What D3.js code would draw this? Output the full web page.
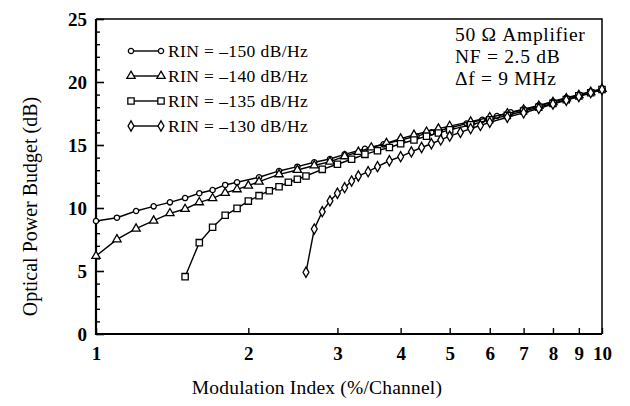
<!DOCTYPE html>
<html>
<head>
<meta charset="utf-8">
<script src="https://cdn.jsdelivr.net/npm/d3@7"></script>
<style>
  html, body { margin: 0; padding: 0; background: #fff; }
  svg { display: block; }
  text { font-family: "Liberation Serif", "DejaVu Serif", serif; fill: #000; }
</style>
</head>
<body>
<svg id="chart" width="630" height="406"></svg>
<script>
// ---- data ----
const seriesNames = ["RIN = \u2013150 dB/Hz", "RIN = \u2013140 dB/Hz", "RIN = \u2013135 dB/Hz", "RIN = \u2013130 dB/Hz"];
const markerTypes = ["circle", "triangle", "square", "diamond"];

const x150 = [1.0,1.1,1.2,1.3,1.4,1.5,1.6,1.7,1.8,1.9,2.1,2.3,2.5,2.7,2.9,3.1,3.4,3.7,4.0,4.3,4.6,5.0,5.4,5.8,6.2,6.6,7.0,7.5,8.0,8.5,9.0,9.5,10];
const y150 = [8.97,9.23,9.76,10.13,10.45,10.79,11.17,11.43,11.83,12.04,12.44,12.94,13.28,13.63,13.89,14.26,14.7,15.05,15.4,15.7,16.0,16.35,16.7,17.0,17.3,17.6,17.85,18.15,18.45,18.75,19.0,19.25,19.45];

const x140 = [1.0,1.1,1.2,1.3,1.4,1.5,1.6,1.7,1.8,1.9,2.0,2.1,2.3,2.5,2.7,2.9,3.1,3.3,3.5,3.75,4.0,4.25,4.5,4.75,5.0,5.5,6.0,6.5,7.0,7.5,8.0,8.5,9.0,9.5,10];
const y140 = [6.19,7.51,8.36,8.99,9.58,9.92,10.45,10.77,11.2,11.48,11.77,12.09,12.67,13.02,13.37,13.68,14.1,14.45,14.8,15.15,15.5,15.8,16.05,16.3,16.5,16.85,17.2,17.5,17.8,18.1,18.4,18.7,18.95,19.2,19.45];

const x135 = [1.5,1.6,1.7,1.8,1.9,2.0,2.1,2.2,2.3,2.4,2.5,2.6,2.8,3.0,3.2,3.4,3.6,3.8,4.0,4.25,4.5,4.75,5.0,5.5,6.0,6.5,7.0,7.5,8.0,8.5,9.0,9.5,10];
const y135 = [4.55,7.25,8.47,9.42,9.97,10.55,10.98,11.37,11.69,12.04,12.28,12.54,13.07,13.47,13.87,14.26,14.55,14.8,15.1,15.4,15.7,15.95,16.2,16.6,17.0,17.35,17.7,18.0,18.3,18.6,18.9,19.15,19.4];

const x130 = [2.6,2.7,2.8,2.9,3.0,3.1,3.2,3.3,3.45,3.6,3.8,4.0,4.2,4.4,4.6,4.8,5.0,5.25,5.5,5.75,6.0,6.5,7.0,7.5,8.0,8.5,9.0,9.5,10];
const y130 = [4.9,8.33,9.71,10.56,11.17,11.61,12.14,12.54,12.88,13.28,13.75,14.07,14.45,14.8,15.1,15.4,15.7,16.0,16.3,16.55,16.8,17.2,17.55,17.9,18.25,18.55,18.85,19.15,19.4];

const xTicks = [1,2,3,4,5,6,7,8,9,10];
const yTicks = [0,5,10,15,20,25];
const yMinorTicks = [1,2,3,4,6,7,8,9,11,12,13,14,16,17,18,19,21,22,23,24];
const annotation = ["50 \u03A9 Amplifier", "NF = 2.5 dB", "\u0394f = 9 MHz"];
const xTitle = "Modulation Index (%/Channel)";
const yTitle = "Optical Power Budget (dB)";

// ---- build ----
const series = [
  {name: seriesNames[0], type: markerTypes[0], xs: x150, ys: y150},
  {name: seriesNames[1], type: markerTypes[1], xs: x140, ys: y140},
  {name: seriesNames[2], type: markerTypes[2], xs: x135, ys: y135},
  {name: seriesNames[3], type: markerTypes[3], xs: x130, ys: y130}
];

const svg = d3.select("#chart");
const L = 96, R = 602, T = 19, B = 334;
const x = d3.scaleLog().domain([1, 10]).range([L, R]);
const y = d3.scaleLinear().domain([0, 25]).range([B, T]);

function markerPath(type) {
  if (type === "circle") return d3.symbol().type(d3.symbolCircle).size(22)();
  if (type === "triangle") return d3.symbol().type(d3.symbolTriangle).size(30)();
  if (type === "square") return d3.symbol().type(d3.symbolSquare).size(40)();
  return d3.symbol().type(d3.symbolDiamond).size(30)();
}

// axes
const gy = svg.append("g").attr("transform", `translate(${L},0)`)
  .call(d3.axisLeft(y).tickValues(yTicks).tickSize(-8).tickPadding(9).tickFormat(d3.format("d")));
gy.select(".domain").remove();
gy.selectAll("line").attr("stroke", "#000").attr("stroke-width", 1.6);
gy.selectAll("text").attr("font-size", 19).attr("font-family", "Liberation Serif").attr("font-weight", "bold");

const gym = svg.append("g").attr("transform", `translate(${L},0)`)
  .call(d3.axisLeft(y).tickValues(yMinorTicks).tickSize(-4).tickFormat(""));
gym.select(".domain").remove();
gym.selectAll("line").attr("stroke", "#000").attr("stroke-width", 1.4);

const gx = svg.append("g").attr("transform", `translate(0,${B})`)
  .call(d3.axisBottom(x).tickValues(xTicks).tickSize(-6).tickPadding(13).tickFormat(d3.format("d")));
gx.select(".domain").remove();
gx.selectAll("line").attr("stroke", "#000").attr("stroke-width", 1.4);
gx.selectAll("text").attr("font-size", 19).attr("font-family", "Liberation Serif").attr("font-weight", "bold");

// frame
svg.append("path")
  .attr("d", `M${L},${T}H${R}V${B}`)
  .attr("fill", "none").attr("stroke", "#000").attr("stroke-width", 1.5);
svg.append("path")
  .attr("d", `M${L},${T}V${B}H${R}`)
  .attr("fill", "none").attr("stroke", "#000").attr("stroke-width", 2.2);

// series
const line = d3.line().x(d => x(d[0])).y(d => y(d[1]));
series.forEach(s => {
  const pts = s.xs.map((v, i) => [v, s.ys[i]]);
  svg.append("path").datum(pts).attr("d", line)
    .attr("fill", "none").attr("stroke", "#000").attr("stroke-width", 1.4);
  svg.append("g").selectAll("path").data(pts).join("path")
    .attr("d", markerPath(s.type))
    .attr("transform", d => `translate(${x(d[0])},${y(d[1])})`)
    .attr("fill", "#fff").attr("stroke", "#000").attr("stroke-width", 1.3);
});

// legend
const lg = svg.append("g");
series.forEach((s, i) => {
  const yy = 51 + i * 25;
  lg.append("line").attr("x1", 131).attr("x2", 161).attr("y1", yy).attr("y2", yy)
    .attr("stroke", "#000").attr("stroke-width", 1.4);
  [131, 161].forEach(xx => {
    lg.append("path").attr("d", markerPath(s.type))
      .attr("transform", `translate(${xx},${yy})`)
      .attr("fill", "#fff").attr("stroke", "#000").attr("stroke-width", 1.3);
  });
  lg.append("text").attr("x", 168).attr("y", yy).attr("dy", "0.35em")
    .attr("font-size", 17.5).attr("letter-spacing", 0.4).text(s.name);
});

// annotation
annotation.forEach((t, i) => {
  svg.append("text").attr("x", 455).attr("y", 41 + i * 22)
    .attr("font-size", 19.5).attr("letter-spacing", 0.7).text(t);
});

// titles
svg.append("text").attr("x", 317).attr("y", 394)
  .attr("text-anchor", "middle").attr("font-size", 19.5).attr("letter-spacing", 0.2).text(xTitle);
svg.append("text").attr("transform", `translate(37,${(T + B) / 2 + 30}) rotate(-90)`)
  .attr("text-anchor", "middle").attr("font-size", 20).text(yTitle);
</script>
</body>
</html>
